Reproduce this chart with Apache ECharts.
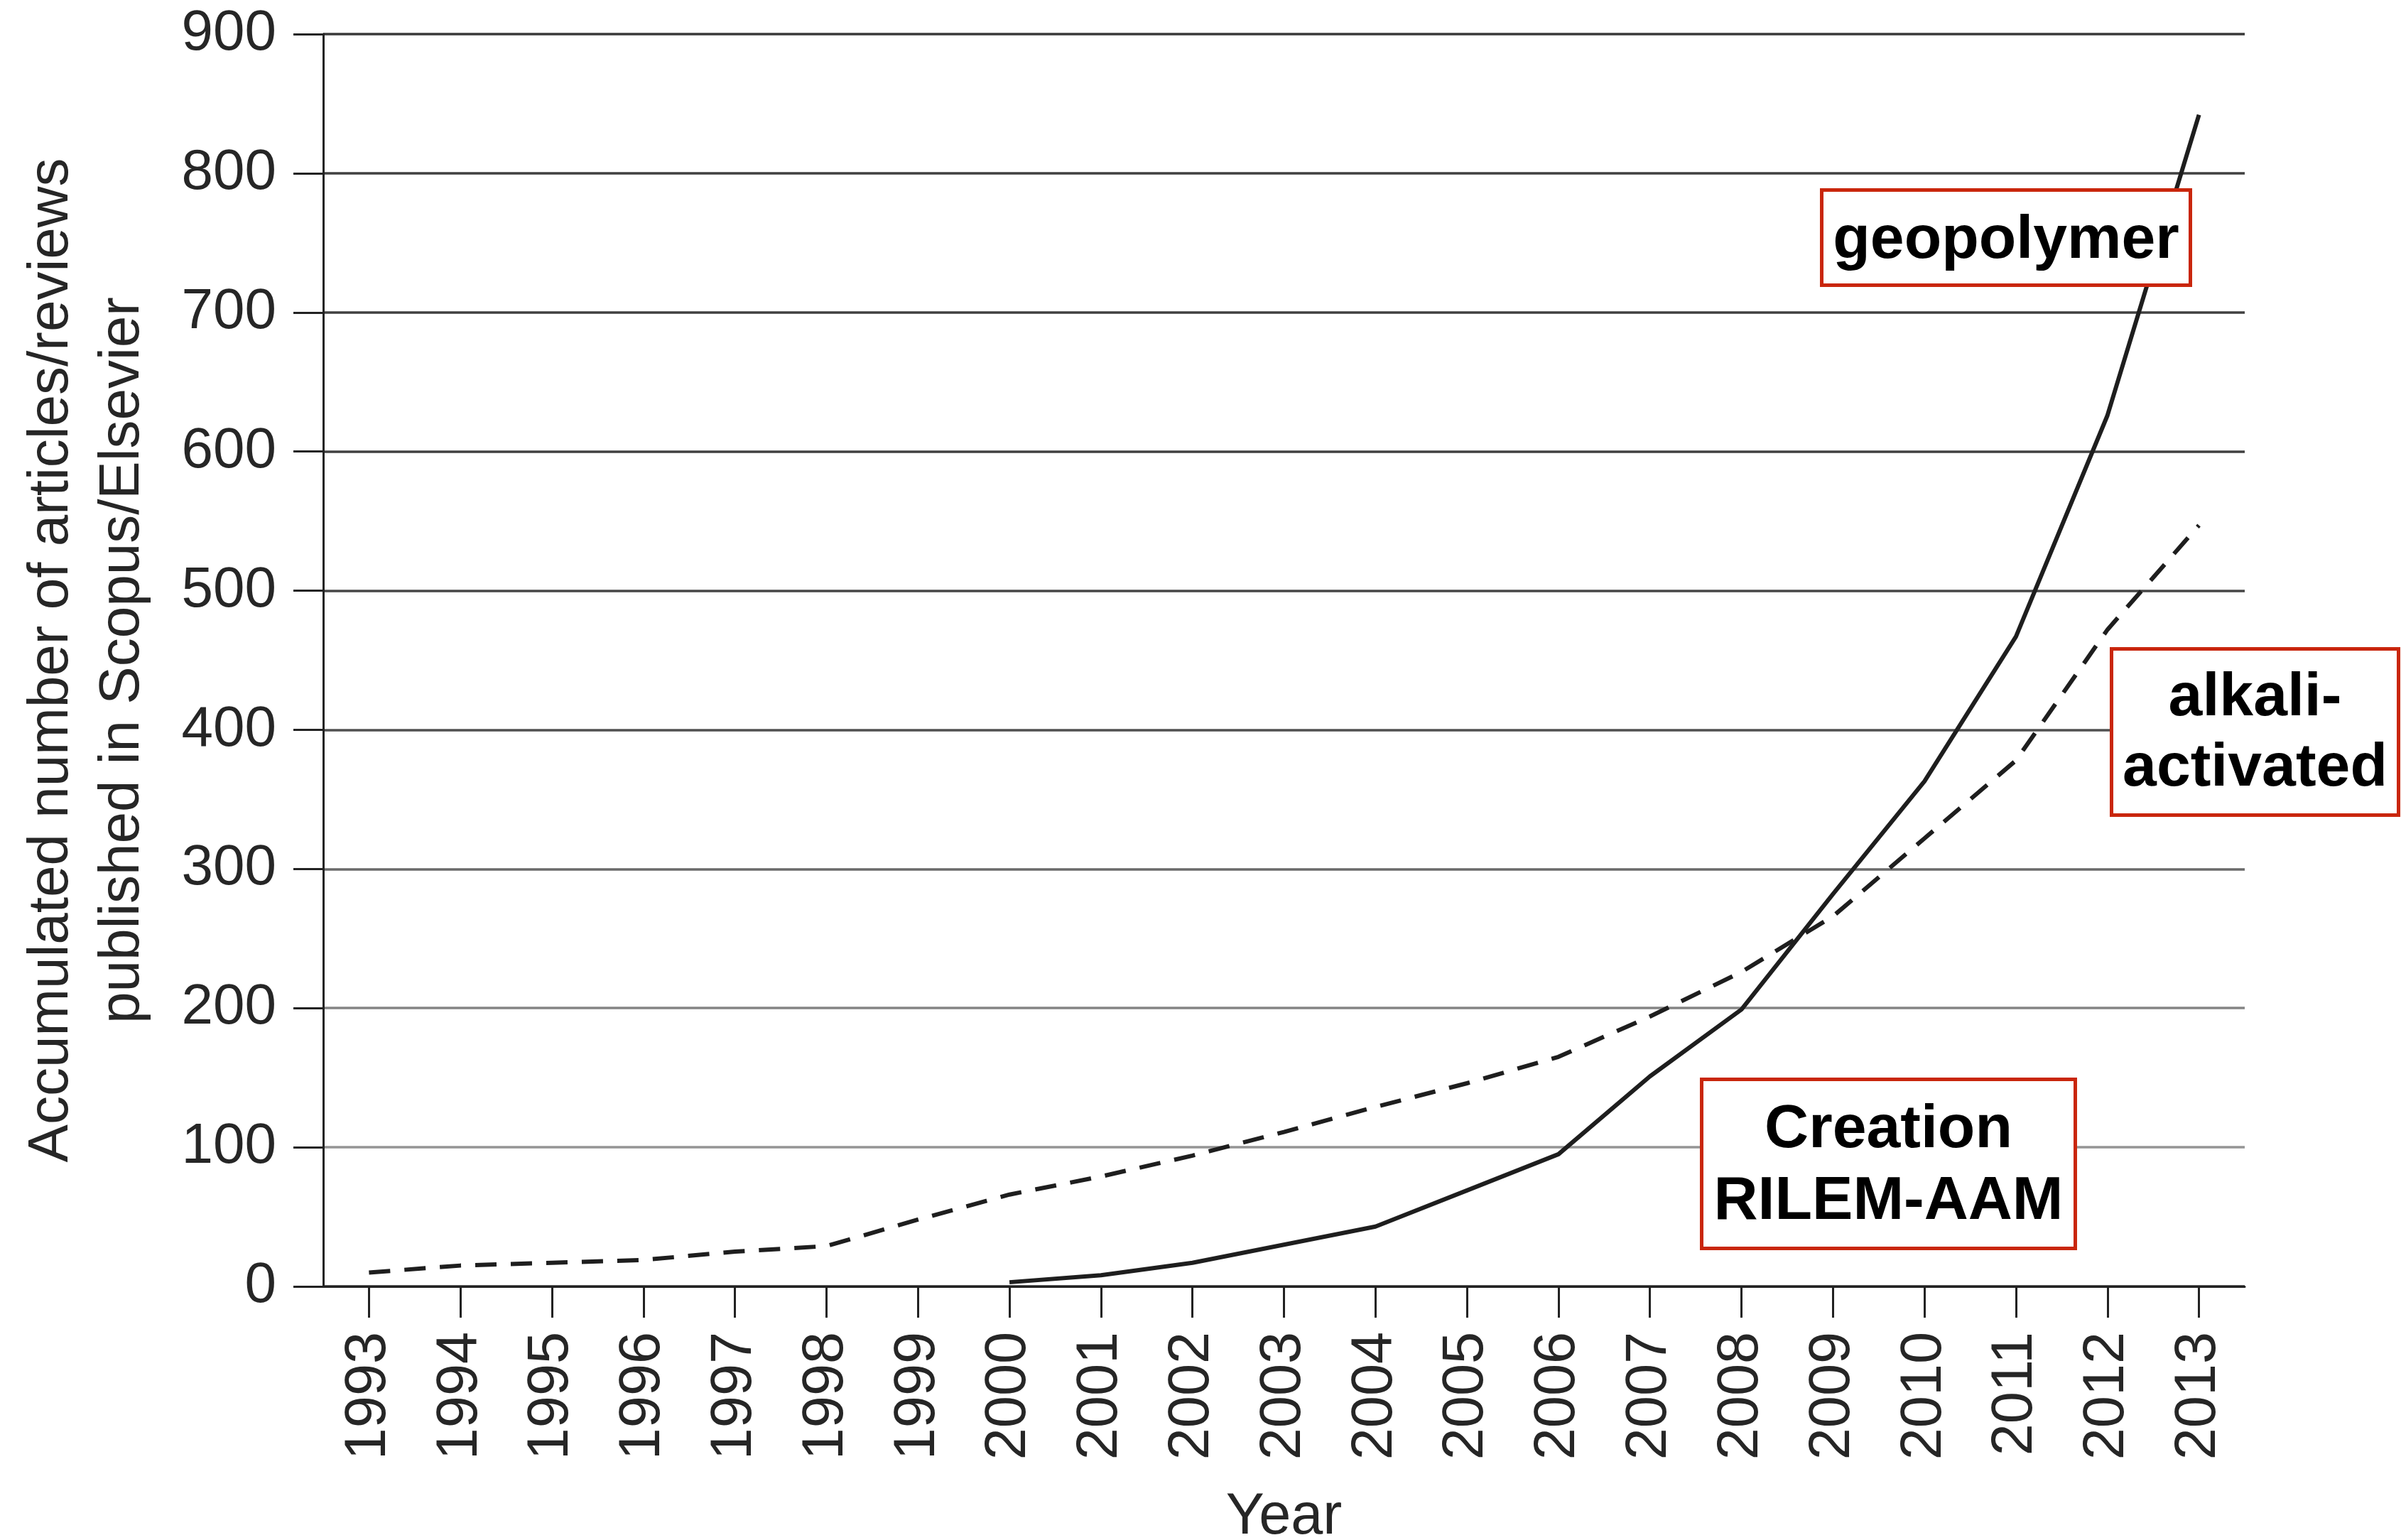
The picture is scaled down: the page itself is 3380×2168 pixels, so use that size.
<!DOCTYPE html>
<html>
<head>
<meta charset="utf-8">
<script src="https://cdn.jsdelivr.net/npm/echarts@6/dist/echarts.min.js"></script>
<style>
  html, body { margin: 0; padding: 0; background: #ffffff; }
  #chart { width: 3380px; height: 2168px; }
</style>
</head>
<body>
<div id="chart"></div>
<script>
// Publication years on the horizontal axis
const years = ['1993', '1994', '1995', '1996', '1997', '1998', '1999', '2000', '2001', '2002', '2003',
               '2004', '2005', '2006', '2007', '2008', '2009', '2010', '2011', '2012', '2013'];

// Accumulated number of articles/reviews (Scopus/Elsevier)
const alkaliActivated = [10, 15, 17, 19, 25, 29, 48, 66, 79, 94, 111, 129, 146, 165, 194, 226, 266, 322, 378, 472, 547];
const geopolymer = [null, null, null, null, null, null, null, 3, 8, 17, 30, 43, 69, 95, 151, 199, 282, 363, 467, 626, 842];

// Value axis range and step
const yMin = 0;
const yMax = 900;
const yStep = 100;

// Boxed annotations
const notes = [
  { lines: ['geopolymer'] },
  { lines: ['alkali-', 'activated'] },
  { lines: ['Creation', 'RILEM-AAM'] }
];

const FONT = '"Liberation Sans", Arial, Helvetica, sans-serif';
const INK = '#262626';
const RED = '#c9260c';

const chart = echarts.init(document.getElementById('chart'), null, { renderer: 'canvas' });

// Box geometry (outer edges) for each note, in page pixels
const boxes = [
  { x0: 2562, x1: 3086, y0: 265, y1: 404, baselines: [369] },
  { x0: 2970, x1: 3379, y0: 911, y1: 1150, baselines: [1013, 1112] },
  { x0: 2393, x1: 2924, y0: 1517, y1: 1760, baselines: [1621, 1722] }
];
const NOTE_SIZE = 86;
const BORDER = 5;

const graphics = [];
notes.forEach((note, i) => {
  const b = boxes[i];
  const cx = (b.x0 + b.x1) / 2;
  graphics.push({
    type: 'rect',
    z: 100,
    shape: { x: b.x0 + BORDER / 2, y: b.y0 + BORDER / 2, width: b.x1 - b.x0 - BORDER, height: b.y1 - b.y0 - BORDER },
    style: { fill: '#ffffff', stroke: RED, lineWidth: BORDER }
  });
  note.lines.forEach((t, k) => {
    graphics.push({
      type: 'text',
      z: 101,
      style: {
        text: t,
        x: cx,
        y: b.baselines[k] - 0.3465 * NOTE_SIZE,
        align: 'center',
        verticalAlign: 'middle',
        fill: '#000000',
        font: 'bold ' + NOTE_SIZE + 'px ' + FONT
      }
    });
  });
});

const option = {
  backgroundColor: '#ffffff',
  animation: false,
  grid: { left: 455, right: 220, top: 48, bottom: 357, containLabel: false, outerBoundsMode: 'none' },
  xAxis: {
    type: 'category',
    data: years,
    boundaryGap: true,
    name: 'Year',
    nameLocation: 'middle',
    nameGap: 285,
    nameTextStyle: { fontFamily: FONT, fontSize: 81, color: INK },
    axisLine: { show: true, lineStyle: { color: '#222222', width: 3 } },
    axisTick: { show: true, alignWithLabel: true, length: 44, lineStyle: { color: '#222222', width: 3 } },
    axisLabel: { rotate: 90, margin: 64, fontFamily: FONT, fontSize: 81, color: INK, interval: 0 },
    splitLine: { show: false }
  },
  yAxis: {
    type: 'value',
    min: yMin,
    max: yMax,
    interval: yStep,
    name: 'Accumulated number of articles/reviews\npublished in Scopus/Elsevier',
    nameLocation: 'middle',
    nameGap: 232,
    nameTextStyle: { fontFamily: FONT, fontSize: 80, lineHeight: 100, color: INK },
    axisLine: { show: true, lineStyle: { color: '#222222', width: 3 } },
    axisTick: { show: true, length: 42, lineStyle: { color: '#222222', width: 3 } },
    axisLabel: { margin: 66, fontFamily: FONT, fontSize: 80, color: INK },
    splitLine: {
      show: true,
      lineStyle: {
        width: 3.5,
        color: ['#333333', '#959595', '#858585', '#6a6a6a', '#505050', '#464646', '#404040', '#404040', '#404040', '#383838']
      }
    }
  },
  series: [
    {
      name: 'alkali-activated',
      type: 'line',
      data: alkaliActivated,
      showSymbol: false,
      symbol: 'none',
      z: 3,
      lineStyle: { color: '#1e1e1e', width: 6, type: [30, 20] }
    },
    {
      name: 'geopolymer',
      type: 'line',
      data: geopolymer,
      showSymbol: false,
      symbol: 'none',
      connectNulls: false,
      z: 4,
      lineStyle: { color: '#1e1e1e', width: 6, type: 'solid' }
    }
  ],
  graphic: { elements: graphics }
};

chart.setOption(option);
</script>
</body>
</html>
